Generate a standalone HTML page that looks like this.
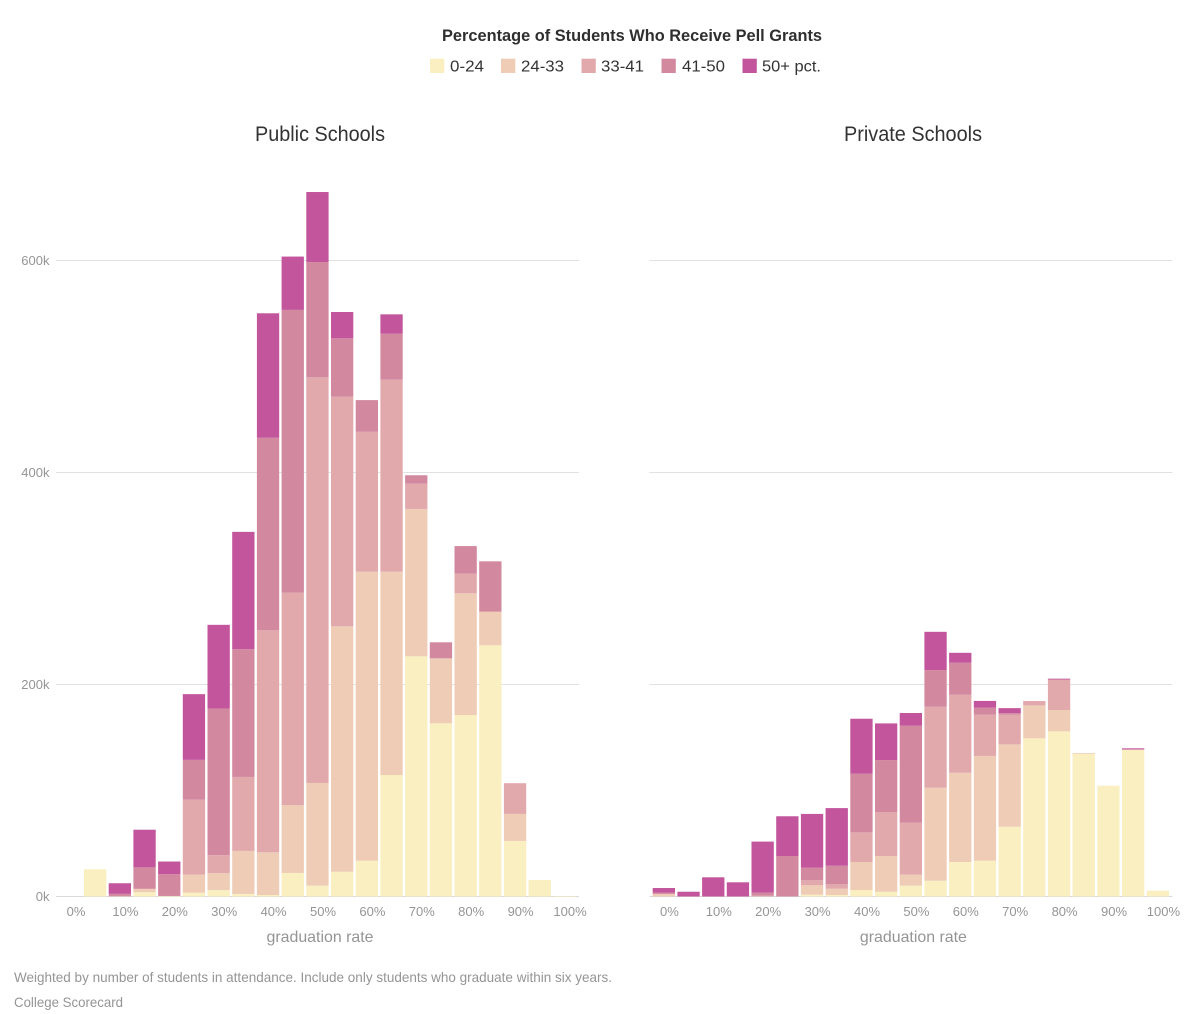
<!DOCTYPE html>
<html lang="en">
<head>
<meta charset="utf-8">
<title>Percentage of Students Who Receive Pell Grants</title>
<style>
  html, body { margin: 0; padding: 0; background: #fff; }
  svg { display: block; font-family: "Liberation Sans", Arial, sans-serif; }
  .tick { fill: #959595; font-size: 13px; }
  .axis-title { fill: #959595; font-size: 16px; }
  .note { fill: #959595; font-size: 14px; }
  .legend-label { fill: #333; font-size: 16px; }
  .panel-title { fill: #333; font-size: 21px; }
</style>
</head>
<body>
<svg id="chart" width="1200" height="1014" viewBox="0 0 1200 1014" xmlns="http://www.w3.org/2000/svg">
  <rect x="0" y="0" width="1200" height="1014" fill="#ffffff"/>
  <text x="442" y="41" font-size="17" font-weight="700" fill="#2f2f2f" textLength="380" lengthAdjust="spacingAndGlyphs">Percentage of Students Who Receive Pell Grants</text>

  <g>
    <g>
      <rect x="430" y="58.7" width="14.3" height="14.3" fill="#faefc0"/>
      <text class="legend-label" x="450" y="71.5" textLength="34" lengthAdjust="spacingAndGlyphs">0-24</text>
    </g>
    <g>
      <rect x="501" y="58.7" width="14.3" height="14.3" fill="#eeccb5"/>
      <text class="legend-label" x="521" y="71.5" textLength="43" lengthAdjust="spacingAndGlyphs">24-33</text>
    </g>
    <g>
      <rect x="581.5" y="58.7" width="14.3" height="14.3" fill="#e2a9ad"/>
      <text class="legend-label" x="601" y="71.5" textLength="43" lengthAdjust="spacingAndGlyphs">33-41</text>
    </g>
    <g>
      <rect x="661.5" y="58.7" width="14.3" height="14.3" fill="#d2889f"/>
      <text class="legend-label" x="682" y="71.5" textLength="43" lengthAdjust="spacingAndGlyphs">41-50</text>
    </g>
    <g>
      <rect x="742.5" y="58.7" width="14.3" height="14.3" fill="#c2559c"/>
      <text class="legend-label" x="762" y="71.5" textLength="59" lengthAdjust="spacingAndGlyphs">50+ pct.</text>
    </g>
  </g>

  <text class="panel-title" x="255" y="141" textLength="130" lengthAdjust="spacingAndGlyphs">Public Schools</text>
  <text class="panel-title" x="844" y="141" textLength="138" lengthAdjust="spacingAndGlyphs">Private Schools</text>

  <g id="panel-public"></g>
  <g id="panel-private"></g>

  <text class="note" x="14" y="982" textLength="598" lengthAdjust="spacingAndGlyphs">Weighted by number of students in attendance. Include only students who graduate within six years.</text>
  <text class="note" x="14" y="1007" textLength="109" lengthAdjust="spacingAndGlyphs">College Scorecard</text>
</svg>

<script>
// Bin starts along the graduation-rate axis (percent).
const bins = [0, 5, 10, 15, 20, 25, 30, 35, 40, 45, 50, 55, 60, 65, 70, 75, 80, 85, 90, 95, 100];
const xTickValues = [0, 10, 20, 30, 40, 50, 60, 70, 80, 90, 100];
const yTickValues = [0, 200, 400, 600];

// Public schools: students (thousands) per bin, by Pell-grant tier.
const public0to24 = [0, 25.7, 0, 4, 0.5, 3.6, 6, 2.4, 1.4, 22.2, 10.2, 23.4, 33.8, 114.6, 226.6, 163.4, 171.2, 237, 52.4, 15.6, 0.5];
const public24to33 = [0, 0, 0, 3, 0, 17, 16, 40.6, 40.3, 63.9, 96.9, 231.5, 272.6, 191.8, 139, 61.3, 114.8, 31.7, 25.5, 0, 0];
const public33to41 = [0, 0, 0.5, 0.5, 0, 70.8, 17, 69.8, 209.4, 200.6, 382.7, 216.6, 132, 181.1, 23.9, 0, 18.5, 0, 29, 0, 0];
const public41to50 = [0, 0, 2, 20, 20.5, 37.5, 138.4, 120.5, 181.7, 266.7, 108.8, 55.1, 29.9, 43.4, 7.9, 15.1, 26.1, 47.5, 0, 0, 0];
const public50plus = [0, 0, 10, 35.5, 12, 62, 78.9, 110.7, 117.4, 50.3, 66, 24.8, 0, 18.3, 0, 0, 0, 0, 0, 0, 0];

// Private schools: students (thousands) per bin, by Pell-grant tier.
const private0to24 = [0, 0, 0, 0, 0, 0, 1.7, 1.4, 6.1, 4.5, 10.2, 14.9, 32.5, 33.8, 65.8, 149.2, 155.8, 134.7, 104.5, 138.2, 5.5];
const private24to33 = [2.4, 0, 0, 0, 0, 0, 8.9, 5.9, 26.4, 33.7, 10.4, 87.7, 84.2, 98.8, 77.7, 31.1, 20.1, 0.7, 0, 0, 0];
const private33to41 = [0, 0, 0, 0, 0.7, 0, 4.7, 4.2, 28, 41.2, 49, 76.4, 73.6, 39, 27.9, 4.1, 28.8, 0, 0, 0.7, 0];
const private41to50 = [1.2, 0, 0, 0, 3, 38.2, 11.9, 17.5, 55.3, 49.3, 91.5, 34.6, 30.2, 6.6, 1.6, 0, 0, 0, 0, 0, 0];
const private50plus = [4.4, 4.5, 18.1, 13.4, 48.1, 37.5, 50.7, 54.4, 51.9, 34.6, 12, 36.1, 9.4, 6.3, 4.7, 0, 0.8, 0, 0, 0.9, 0];

const tierNames = ["0-24", "24-33", "33-41", "41-50", "50-plus"];
const tierColors = ["#faefc0", "#eeccb5", "#e2a9ad", "#d2889f", "#c2559c"];
const publicSeries = [public0to24, public24to33, public33to41, public41to50, public50plus];
const privateSeries = [private0to24, private24to33, private33to41, private41to50, private50plus];

const NS = "http://www.w3.org/2000/svg";

function yScale(v) {
  return 896.5 - v * 1.06;
}
function xScale(pct) {
  return 76 + pct * 4.94;
}
function barLeft(bin) {
  return xScale(bin) - 16.7;
}

function drawPanel(group, panelName, offset, series, showYLabels) {
  // Gridlines and y tick labels
  yTickValues.forEach(function (t) {
    const line = document.createElementNS(NS, "line");
    
    
    line.setAttribute("x1", 56 + offset);
    line.setAttribute("x2", 579 + offset);
    line.setAttribute("y1", yScale(t));
    line.setAttribute("y2", yScale(t));
    line.setAttribute("stroke", t === 0 ? "#d9d9d9" : "#e2e2e2");
    line.setAttribute("stroke-width", "1");
    group.appendChild(line);

    if (showYLabels) {
      const label = document.createElementNS(NS, "text");
      
      
      label.setAttribute("class", "tick");
      label.setAttribute("x", 49.5);
      label.setAttribute("y", yScale(t) + 4.5);
      label.setAttribute("text-anchor", "end");
      label.textContent = t + "k";
      group.appendChild(label);
    }
  });

  // Stacked bars
  bins.forEach(function (bin, i) {
    let cumulative = 0;
    series.forEach(function (values, s) {
      const v = values[i];
      if (v > 0) {
        const rect = document.createElementNS(NS, "rect");
        
        
        rect.setAttribute("x", barLeft(bin) + offset);
        rect.setAttribute("width", 22.3);
        rect.setAttribute("y", yScale(cumulative + v));
        rect.setAttribute("height", yScale(cumulative) - yScale(cumulative + v));
        rect.setAttribute("fill", tierColors[s]);
        group.appendChild(rect);
      }
      cumulative += v;
    });
  });

  // X tick labels
  xTickValues.forEach(function (t) {
    const label = document.createElementNS(NS, "text");
    
    
    label.setAttribute("class", "tick");
    label.setAttribute("x", xScale(t) + offset);
    label.setAttribute("y", 916);
    label.setAttribute("text-anchor", "middle");
    label.textContent = t + "%";
    group.appendChild(label);
  });

  // X axis title
  const title = document.createElementNS(NS, "text");
  
  
  title.setAttribute("class", "axis-title");
  title.setAttribute("x", 320 + offset);
  title.setAttribute("y", 942);
  title.setAttribute("text-anchor", "middle");
  title.setAttribute("textLength", "107");
  title.setAttribute("lengthAdjust", "spacingAndGlyphs");
  title.textContent = "graduation rate";
  group.appendChild(title);
}

drawPanel(document.getElementById("panel-public"), "public", 0, publicSeries, true);
drawPanel(document.getElementById("panel-private"), "private", 593.4, privateSeries, false);
</script>
</body>
</html>
